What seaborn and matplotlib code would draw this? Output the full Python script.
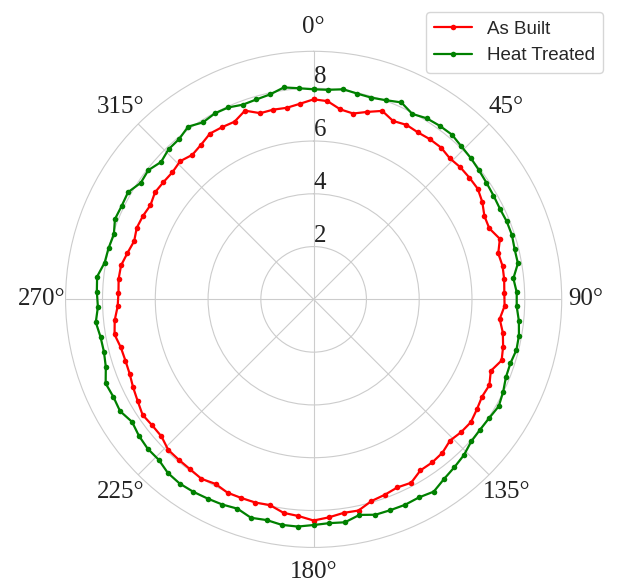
import numpy as np
import seaborn as sns
import matplotlib.pyplot as plt

# measurement angle (deg) and radius for both samples
angle_deg = list(range(0, 360, 4))
as_built = [7.58, 7.53, 7.27, 7.20, 7.39, 7.60, 7.40, 7.49, 7.46, 7.50,
            7.51, 7.43, 7.48, 7.49, 7.50, 7.38, 7.20, 7.18, 7.42, 7.21,
            7.27, 7.26, 7.23, 7.24, 7.09, 7.28, 7.40, 7.49, 7.24, 7.41,
            7.37, 7.46, 7.56, 7.52, 7.44, 7.59, 7.64, 7.64, 7.87, 7.80,
            7.88, 7.95, 8.18, 8.17, 8.28, 8.38, 8.23, 8.17, 7.97, 8.01,
            8.01, 8.02, 7.92, 8.02, 7.96, 7.94, 7.93, 7.76, 7.76, 7.82,
            7.70, 7.61, 7.52, 7.50, 7.53, 7.66, 7.58, 7.43, 7.40, 7.43,
            7.41, 7.27, 7.15, 7.23, 7.20, 7.14, 7.25, 7.22, 7.20, 7.28,
            7.15, 7.25, 7.41, 7.39, 7.37, 7.61, 7.34, 7.35, 7.33, 7.43]
heat_treated = [7.96, 7.96, 8.04, 7.97, 7.95, 8.03, 8.17, 7.96, 8.09, 8.13,
                8.15, 8.06, 8.01, 7.95, 7.90, 7.87, 7.85, 7.89, 7.90, 7.85,
                7.86, 7.61, 7.70, 7.70, 7.82, 7.90, 7.92, 7.84, 7.86, 7.99,
                8.10, 8.03, 8.01, 8.04, 8.20, 8.30, 8.41, 8.59, 8.50, 8.52,
                8.50, 8.49, 8.35, 8.53, 8.50, 8.55, 8.63, 8.63, 8.55, 8.61,
                8.44, 8.51, 8.55, 8.60, 8.63, 8.59, 8.45, 8.46, 8.40, 8.30,
                8.47, 8.44, 8.50, 8.28, 8.19, 8.20, 8.30, 8.18, 8.22, 8.25,
                8.04, 8.01, 7.96, 8.12, 8.09, 8.12, 7.90, 7.95, 7.78, 7.91,
                7.93, 8.09, 7.91, 7.98, 7.96, 7.85, 7.88, 7.94, 8.11, 8.02]
theta_ticks = [0, 45, 90, 135, 180, 225, 270, 315]
theta_labels = ['0°', '45°', '90°', '135°', '180°', '225°', '270°', '315°']
r_ticks = [2, 4, 6, 8]

sns.set_style("whitegrid")
plt.rcParams['font.family'] = ['Liberation Serif', 'DejaVu Serif']

fig = plt.figure(figsize=(6.18, 5.83), dpi=100)
ax = fig.add_axes([0.106, 0.061, 0.803, 0.851], projection='polar')
ax.set_theta_zero_location('N')
ax.set_theta_direction(-1)

# close the loop back to 0 deg
theta = np.deg2rad(angle_deg + [360])
sns.lineplot(x=theta, y=as_built + as_built[:1], ax=ax, sort=False,
             color='red', marker='o', markersize=4, markeredgewidth=0,
             linewidth=1.6, label='As Built')
sns.lineplot(x=theta, y=heat_treated + heat_treated[:1], ax=ax, sort=False,
             color='green', marker='o', markersize=4, markeredgewidth=0,
             linewidth=1.6, label='Heat Treated')

ax.set_ylim(0, 9.4)
ax.set_xticks(np.deg2rad(theta_ticks))
ax.set_xticklabels(theta_labels, fontsize=18, color='#222222')
ax.set_yticks(r_ticks)
ax.set_yticklabels([str(t) for t in r_ticks], fontsize=18, color='#222222')
ax.set_rlabel_position(0)
ax.tick_params(axis='x', pad=7)
ax.set_xlabel('')
ax.set_ylabel('')

ax.legend(loc='upper right', bbox_to_anchor=(0.976, 0.979),
          bbox_transform=fig.transFigure, borderaxespad=0,
          labelspacing=0.5, borderpad=0.45,
          prop={'family': 'Liberation Sans', 'size': 13.5})

fig.savefig('out.png', dpi=100)
